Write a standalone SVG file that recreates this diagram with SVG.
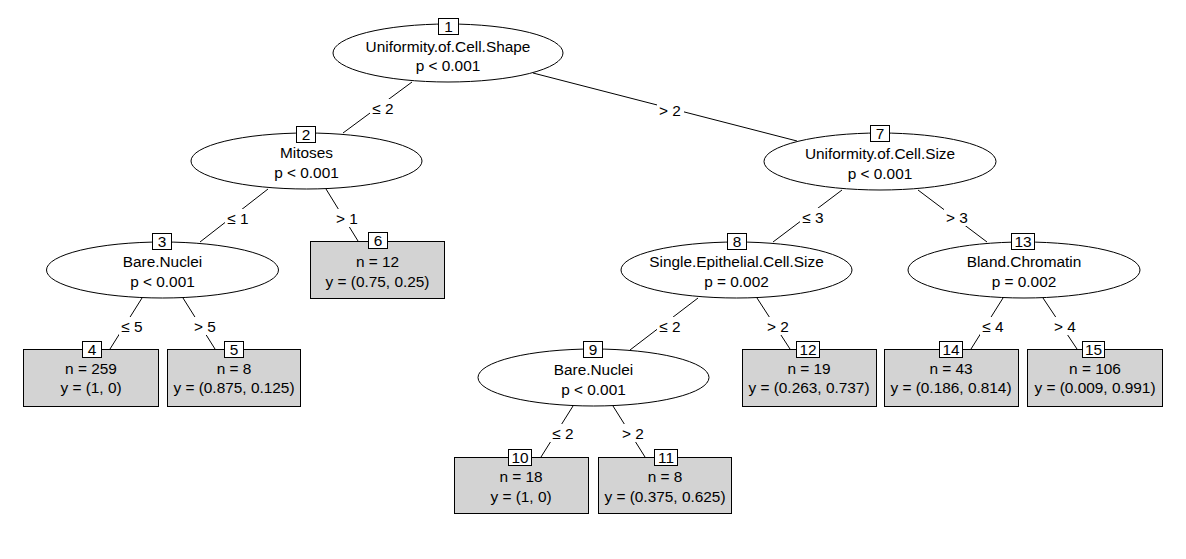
<svg xmlns="http://www.w3.org/2000/svg" width="1186" height="559" viewBox="0 0 1186 559">
<style>
text{font-family:"Liberation Sans",Arial,sans-serif;font-size:15.4px;fill:#000;text-anchor:middle}
.ell{fill:#fff;stroke:#000;stroke-width:1}
.leaf{fill:#d3d3d3;stroke:#000;stroke-width:1}
.idb{fill:#fff;stroke:#000;stroke-width:1}
.edge{stroke:#000;stroke-width:1;fill:none}
.lbg{fill:#fff;stroke:none}
</style>
<rect width="1186" height="559" fill="#fff"/>
<g id="connectors">
<line class="edge" x1="412" y1="82" x2="343" y2="133"/>
<line class="edge" x1="533" y1="73" x2="797" y2="141"/>
<line class="edge" x1="268" y1="189" x2="200" y2="242"/>
<line class="edge" x1="326" y1="189" x2="358" y2="241"/>
<line class="edge" x1="142" y1="298" x2="110" y2="349"/>
<line class="edge" x1="183" y1="298" x2="215" y2="349"/>
<line class="edge" x1="842" y1="190" x2="773" y2="242"/>
<line class="edge" x1="918" y1="190" x2="987" y2="242"/>
<line class="edge" x1="698" y1="298" x2="630" y2="350"/>
<line class="edge" x1="757" y1="298" x2="790" y2="349"/>
<line class="edge" x1="573" y1="406" x2="541" y2="457"/>
<line class="edge" x1="613" y1="406" x2="645" y2="457"/>
<line class="edge" x1="1003" y1="298" x2="971" y2="349"/>
<line class="edge" x1="1043" y1="298" x2="1077" y2="349"/>
<g id="edge-labels">
<rect class="lbg" x="370" y="99" width="27" height="18"/><text x="383" y="114">≤ 2</text>
<rect class="lbg" x="657" y="101" width="27" height="18"/><text x="670" y="115.5">&gt; 2</text>
<rect class="lbg" x="225" y="209" width="27" height="18"/><text x="238" y="223.5">≤ 1</text>
<rect class="lbg" x="334" y="209" width="27" height="18"/><text x="347" y="223.5">&gt; 1</text>
<rect class="lbg" x="119" y="317" width="27" height="18"/><text x="132" y="331.5">≤ 5</text>
<rect class="lbg" x="192" y="317" width="27" height="18"/><text x="205" y="331.5">&gt; 5</text>
<rect class="lbg" x="800" y="208" width="27" height="18"/><text x="813" y="222.5">≤ 3</text>
<rect class="lbg" x="944" y="208" width="27" height="18"/><text x="957" y="222.5">&gt; 3</text>
<rect class="lbg" x="657" y="317" width="27" height="18"/><text x="670" y="331.5">≤ 2</text>
<rect class="lbg" x="765" y="317" width="27" height="18"/><text x="778" y="331.5">&gt; 2</text>
<rect class="lbg" x="550" y="424" width="27" height="18"/><text x="563" y="438.5">≤ 2</text>
<rect class="lbg" x="620" y="424" width="27" height="18"/><text x="633" y="438.5">&gt; 2</text>
<rect class="lbg" x="980" y="317" width="27" height="18"/><text x="993" y="331.5">≤ 4</text>
<rect class="lbg" x="1052" y="317" width="27" height="18"/><text x="1065" y="331.5">&gt; 4</text>
</g>
</g>
<g id="node1">
<ellipse class="ell" cx="448" cy="53" rx="115" ry="29"/>
<rect class="idb" x="438.5" y="18.5" width="20" height="16"/><text x="448.5" y="32">1</text>
<text x="448" y="52">Uniformity.of.Cell.Shape</text>
<text x="448" y="71">p &lt; 0.001</text>
</g>
<g id="node2">
<ellipse class="ell" cx="306.5" cy="161" rx="115.5" ry="28"/>
<rect class="idb" x="296.5" y="126.5" width="19" height="16"/><text x="306" y="140">2</text>
<text x="306.5" y="158">Mitoses</text>
<text x="306.5" y="178">p &lt; 0.001</text>
</g>
<g id="node3">
<ellipse class="ell" cx="162.5" cy="270" rx="116" ry="28"/>
<rect class="idb" x="152.5" y="233.5" width="19" height="16"/><text x="162" y="247">3</text>
<text x="162.5" y="266.5">Bare.Nuclei</text>
<text x="162.5" y="287">p &lt; 0.001</text>
</g>
<g id="node4">
<rect class="leaf" x="23.5" y="349.5" width="135" height="57"/>
<rect class="idb" x="82.5" y="341.5" width="19" height="16"/><text x="92" y="355">4</text>
<text x="91" y="373.5">n = 259</text>
<text x="91" y="393">y = (1, 0)</text>
</g>
<g id="node5">
<rect class="leaf" x="167.5" y="349.5" width="133" height="57"/>
<rect class="idb" x="224.5" y="341.5" width="19" height="16"/><text x="234" y="355">5</text>
<text x="234" y="373.5">n = 8</text>
<text x="234" y="393">y = (0.875, 0.125)</text>
</g>
<g id="node6">
<rect class="leaf" x="310.5" y="241.5" width="134" height="57"/>
<rect class="idb" x="368.5" y="232.5" width="19" height="16"/><text x="378" y="246">6</text>
<text x="377.5" y="266.5">n = 12</text>
<text x="377.5" y="286.5">y = (0.75, 0.25)</text>
</g>
<g id="node7">
<ellipse class="ell" cx="880" cy="161.5" rx="116" ry="28.5"/>
<rect class="idb" x="870.5" y="125.5" width="19" height="16"/><text x="880" y="139">7</text>
<text x="880" y="158.5">Uniformity.of.Cell.Size</text>
<text x="880" y="178.5">p &lt; 0.001</text>
</g>
<g id="node8">
<ellipse class="ell" cx="736.5" cy="270" rx="115.5" ry="28"/>
<rect class="idb" x="727.5" y="233.5" width="19" height="16"/><text x="737" y="247">8</text>
<text x="736.5" y="266.5">Single.Epithelial.Cell.Size</text>
<text x="736.5" y="287">p = 0.002</text>
</g>
<g id="node9">
<ellipse class="ell" cx="593.5" cy="377.5" rx="115.5" ry="28.5"/>
<rect class="idb" x="583.5" y="341.5" width="19" height="16"/><text x="593" y="355">9</text>
<text x="593.5" y="375">Bare.Nuclei</text>
<text x="593.5" y="395">p &lt; 0.001</text>
</g>
<g id="node10">
<rect class="leaf" x="454.5" y="457.5" width="134" height="56"/>
<rect class="idb" x="508.5" y="449.5" width="23" height="16"/><text x="520" y="463">10</text>
<text x="521" y="482">n = 18</text>
<text x="521" y="501.5">y = (1, 0)</text>
</g>
<g id="node11">
<rect class="leaf" x="598.5" y="457.5" width="133" height="56"/>
<rect class="idb" x="654.5" y="449.5" width="23" height="16"/><text x="666" y="463">11</text>
<text x="665" y="482">n = 8</text>
<text x="665" y="501.5">y = (0.375, 0.625)</text>
</g>
<g id="node12">
<rect class="leaf" x="742.5" y="349.5" width="134" height="57"/>
<rect class="idb" x="796.5" y="341.5" width="23" height="16"/><text x="808" y="355">12</text>
<text x="809" y="373.5">n = 19</text>
<text x="809" y="393">y = (0.263, 0.737)</text>
</g>
<g id="node13">
<ellipse class="ell" cx="1024" cy="270" rx="116" ry="28"/>
<rect class="idb" x="1011.5" y="233.5" width="23" height="16"/><text x="1023" y="247">13</text>
<text x="1024" y="266.5">Bland.Chromatin</text>
<text x="1024" y="287">p = 0.002</text>
</g>
<g id="node14">
<rect class="leaf" x="884.5" y="349.5" width="134" height="57"/>
<rect class="idb" x="939.5" y="341.5" width="23" height="16"/><text x="951" y="355">14</text>
<text x="951" y="373.5">n = 43</text>
<text x="951" y="393">y = (0.186, 0.814)</text>
</g>
<g id="node15">
<rect class="leaf" x="1027.5" y="349.5" width="135" height="57"/>
<rect class="idb" x="1082.5" y="341.5" width="22" height="16"/><text x="1093.5" y="355">15</text>
<text x="1095" y="373.5">n = 106</text>
<text x="1095" y="393">y = (0.009, 0.991)</text>
</g>
</svg>
